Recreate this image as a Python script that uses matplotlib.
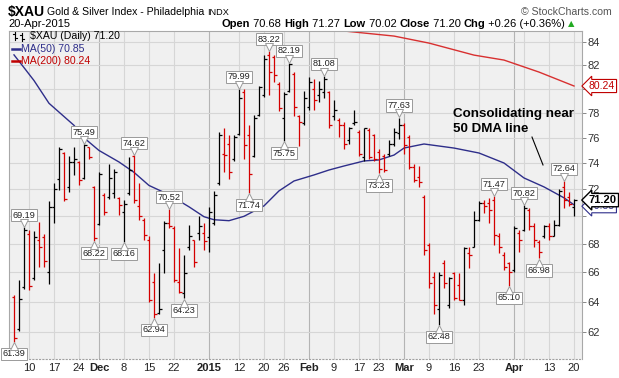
import numpy as np
import matplotlib
matplotlib.use("Agg")
import matplotlib.pyplot as plt
from matplotlib.transforms import offset_copy, blended_transform_factory
from matplotlib.lines import Line2D
from matplotlib.ticker import NullLocator, NullFormatter, FixedLocator

# ---------------- data ----------------
dates = [
    "2014-11-05", "2014-11-06", "2014-11-07", "2014-11-10", "2014-11-11", "2014-11-12", "2014-11-13", "2014-11-14",
    "2014-11-17", "2014-11-18", "2014-11-19", "2014-11-20", "2014-11-21", "2014-11-24", "2014-11-25", "2014-11-26",
    "2014-11-28",
    "2014-12-01", "2014-12-02", "2014-12-03", "2014-12-04", "2014-12-05", "2014-12-08", "2014-12-09", "2014-12-10",
    "2014-12-11", "2014-12-12", "2014-12-15", "2014-12-16", "2014-12-17", "2014-12-18", "2014-12-19", "2014-12-22",
    "2014-12-23", "2014-12-24", "2014-12-26", "2014-12-29", "2014-12-30", "2014-12-31",
    "2015-01-02", "2015-01-05", "2015-01-06", "2015-01-07", "2015-01-08", "2015-01-09", "2015-01-12", "2015-01-13",
    "2015-01-14", "2015-01-15", "2015-01-16", "2015-01-20", "2015-01-21", "2015-01-22", "2015-01-23", "2015-01-26",
    "2015-01-27", "2015-01-28", "2015-01-29", "2015-01-30",
    "2015-02-02", "2015-02-03", "2015-02-04", "2015-02-05", "2015-02-06", "2015-02-09", "2015-02-10", "2015-02-11",
    "2015-02-12", "2015-02-13", "2015-02-17", "2015-02-18", "2015-02-19", "2015-02-20", "2015-02-23", "2015-02-24",
    "2015-02-25", "2015-02-26", "2015-02-27",
    "2015-03-02", "2015-03-03", "2015-03-04", "2015-03-05", "2015-03-06", "2015-03-09", "2015-03-10", "2015-03-11",
    "2015-03-12", "2015-03-13", "2015-03-16", "2015-03-17", "2015-03-18", "2015-03-19", "2015-03-20", "2015-03-23",
    "2015-03-24", "2015-03-25", "2015-03-26", "2015-03-27", "2015-03-30", "2015-03-31",
    "2015-04-01", "2015-04-02", "2015-04-06", "2015-04-07", "2015-04-08", "2015-04-09", "2015-04-10", "2015-04-13",
    "2015-04-14", "2015-04-15", "2015-04-16", "2015-04-17", "2015-04-20",
]

opens = [
    64.34, 62.20, 65.00, 68.70, 65.60, 68.30, 68.50, 66.00, 70.70, 72.80, 74.80, 72.20, 74.10, 74.10, 72.90, 75.26,
    72.20,
    69.46, 71.60, 71.46, 71.70, 71.34, 70.30, 71.70, 74.60, 70.73, 69.76, 68.30, 65.36, 63.27, 67.58, 69.50, 69.15,
    65.36, 64.60, 67.80, 68.30, 68.78, 68.80,
    68.50, 69.50, 72.50, 74.75, 75.50, 74.30, 76.30, 79.73, 76.20, 74.60, 77.80, 79.47, 82.85, 82.70, 80.42, 77.60,
    79.86, 81.25, 77.72, 77.17,
    78.53, 80.00, 79.47, 79.73, 79.73, 77.72, 77.44, 77.00, 75.79, 77.17, 76.47, 74.45, 76.60, 76.20, 74.85, 74.60,
    74.72, 75.50, 76.40,
    77.03, 76.06, 73.70, 72.95, 71.46, 67.93, 65.70, 63.50, 66.64, 63.78, 65.93, 65.14, 64.11, 67.34, 67.81, 69.76,
    70.98, 71.00, 71.22, 68.54, 67.22, 66.64,
    66.16, 68.78, 69.02, 70.49, 69.27, 68.17, 68.54, 69.32, 68.59, 69.39, 72.20, 71.46, 70.68,
]
highs = [
    64.45, 65.50, 69.19, 69.00, 68.90, 69.60, 68.70, 71.10, 72.45, 75.30, 74.90, 74.60, 75.30, 74.20, 75.49, 75.30,
    72.25,
    73.30, 71.70, 73.95, 73.57, 71.46, 71.20, 74.50, 74.62, 72.45, 69.88, 68.54, 65.93, 66.65, 69.63, 70.52, 69.27,
    67.70, 67.22, 69.40, 68.30, 70.00, 69.50,
    70.70, 71.88, 76.47, 76.75, 76.20, 76.20, 79.99, 79.95, 77.00, 77.86, 80.28, 82.85, 83.22, 82.85, 80.56, 79.73,
    82.19, 81.39, 77.86, 79.86,
    80.97, 80.83, 80.70, 81.08, 79.86, 79.07, 77.58, 77.30, 76.90, 78.27, 76.60, 76.80, 76.75, 76.33, 75.12, 74.72,
    75.79, 76.75, 77.63,
    77.17, 76.20, 73.95, 73.82, 71.59, 68.05, 66.05, 66.05, 66.87, 65.70, 66.05, 65.93, 67.81, 67.81, 70.37, 71.10,
    71.22, 71.34, 71.47, 68.78, 67.46, 66.75,
    69.27, 69.02, 70.82, 70.61, 69.51, 68.30, 69.39, 69.51, 69.76, 72.00, 72.64, 71.83, 71.27,
]
lows = [
    61.39, 62.10, 64.90, 64.80, 65.50, 66.40, 66.40, 65.20, 69.50, 71.95, 71.10, 71.80, 73.10, 72.30, 72.80, 74.30,
    68.22,
    69.40, 70.10, 71.27, 71.34, 70.10, 68.16, 71.60, 70.97, 69.76, 68.30, 64.00, 62.94, 63.20, 65.93, 69.15, 65.36,
    64.57, 64.23, 67.58, 66.40, 68.30, 67.60,
    67.40, 69.38, 72.32, 73.31, 72.80, 74.20, 76.20, 74.30, 71.74, 74.45, 77.72, 79.33, 79.47, 80.56, 78.13, 75.75,
    79.73, 77.72, 75.39, 77.03,
    78.27, 78.27, 78.93, 79.20, 76.75, 77.44, 76.06, 75.12, 75.52, 77.03, 74.59, 74.20, 74.32, 74.20, 73.23, 73.31,
    74.59, 75.39, 75.92,
    74.74, 73.57, 72.58, 72.15, 67.22, 64.91, 63.22, 62.48, 64.91, 63.56, 64.11, 64.11, 63.78, 66.28, 67.81, 69.63,
    70.24, 69.51, 67.93, 67.34, 66.16, 65.10,
    66.05, 67.46, 68.90, 69.02, 67.81, 66.98, 68.41, 68.30, 68.54, 69.27, 70.61, 70.73, 70.02,
]
closes = [
    61.60, 64.20, 69.00, 65.10, 68.50, 67.80, 66.80, 70.70, 72.00, 75.10, 71.30, 74.10, 74.30, 72.70, 75.45, 74.50,
    68.40,
    73.20, 70.30, 72.90, 73.30, 70.85, 70.90, 73.45, 71.20, 70.00, 68.66, 64.10, 63.20, 63.55, 69.50, 69.27, 65.48,
    64.68, 65.93, 68.54, 66.75, 69.27, 68.20,
    70.30, 71.60, 76.20, 74.65, 73.30, 76.10, 79.20, 75.40, 73.20, 77.60, 80.14, 82.55, 81.39, 81.20, 78.40, 79.60,
    82.10, 78.53, 77.30, 79.20,
    80.56, 79.07, 80.00, 80.83, 77.00, 78.27, 77.03, 75.52, 76.75, 77.30, 74.72, 76.75, 74.45, 74.32, 73.55, 73.45,
    75.52, 76.47, 77.03,
    75.40, 73.70, 72.70, 72.58, 67.58, 65.25, 63.78, 65.80, 65.30, 65.60, 64.23, 64.15, 67.70, 67.22, 69.76, 70.98,
    70.73, 70.49, 68.66, 67.81, 66.40, 66.05,
    69.15, 68.30, 70.61, 69.27, 68.30, 67.46, 69.32, 68.54, 69.39, 71.90, 71.22, 70.94, 71.20,
]

# moving averages (bar date -> value)
ma50_dates = ["2014-11-05", "2014-11-07", "2014-11-11", "2014-11-14", "2014-11-21", "2014-11-25", "2014-12-01",
              "2014-12-05", "2014-12-10", "2014-12-15", "2014-12-19", "2014-12-26", "2014-12-31", "2015-01-05",
              "2015-01-08", "2015-01-13", "2015-01-20", "2015-01-23", "2015-01-28", "2015-02-03", "2015-02-06",
              "2015-02-11", "2015-02-18", "2015-02-23", "2015-02-26", "2015-03-02", "2015-03-06", "2015-03-16",
              "2015-03-23", "2015-03-30", "2015-04-06", "2015-04-10", "2015-04-16", "2015-04-20"]
ma50_values = [82.9, 81.8, 80.7, 78.8, 77.0, 76.0, 75.0, 74.1, 73.3, 72.3, 71.6, 70.7, 69.97, 69.75,
               69.68, 70.0, 70.77, 71.89, 72.64, 73.10, 73.48, 73.79, 74.18, 74.26, 74.64, 75.19, 75.51, 75.19,
               74.80, 74.02, 72.87, 72.19, 71.37, 70.85]

ma200_dates = ["2015-02-06", "2015-02-11", "2015-02-26", "2015-03-09", "2015-03-20", "2015-03-30", "2015-04-09",
               "2015-04-20"]
ma200_values = [85.3, 85.0, 84.55, 83.93, 82.88, 82.45, 81.42, 80.24]

# labelled swing highs / lows
label_highs = ["2014-11-07", "2014-11-25", "2014-12-10", "2014-12-19", "2015-01-12", "2015-01-21", "2015-01-27",
               "2015-02-05", "2015-02-27", "2015-03-26", "2015-04-06", "2015-04-16"]
label_lows = ["2014-11-05", "2014-11-28", "2014-12-08", "2014-12-16", "2014-12-24", "2015-01-14", "2015-01-26",
              "2015-02-23", "2015-03-11", "2015-03-31", "2015-04-09"]

# x-axis labels
xlabel_dates = ["2014-11-10", "2014-11-17", "2014-11-24", "2014-12-01", "2014-12-08", "2014-12-15", "2014-12-22",
                "2015-01-02", "2015-01-12", "2015-01-20", "2015-01-26", "2015-02-02", "2015-02-09", "2015-02-17",
                "2015-02-23", "2015-03-02", "2015-03-09", "2015-03-16", "2015-03-23", "2015-04-01", "2015-04-06",
                "2015-04-13", "2015-04-20"]
xlabel_texts = ["10", "17", "24", "Dec", "8", "15", "22", "2015", "12", "20", "26", "Feb", "9", "17", "23",
                "Mar", "9", "16", "23", "Apr", "", "13", "20"]
month_labels = {"Dec", "2015", "Feb", "Mar", "Apr"}

yticks = [62, 64, 66, 68, 70, 72, 74, 76, 78, 80, 82, 84]
hidden_ylabels = {70, 80}   # covered by the value tags on the right

# ---------------- figure ----------------
W, H = 619, 378
fig = plt.figure(figsize=(W / 100, H / 100), dpi=100)
fig.patch.set_facecolor("white")
FONT = "Liberation Sans"


def fx(x):
    return x / W


def fy(y):
    return 1 - y / H


ax = fig.add_axes([fx(9), 1 - 359 / H, (582 - 9) / W, (359 - 31) / H])
ax.set_facecolor("#f0f0f0")
ax.set_yscale("log")
ax.set_ylim(60.28, 85.0)
ax.set_xlim(-1, 113.6)

idx = {d: i for i, d in enumerate(dates)}
n = len(dates)
x = np.arange(n)

# grid
for d, t in zip(xlabel_dates, xlabel_texts):
    c = "#b4b4b4" if t in month_labels else "#d6d6d6"
    ax.axvline(idx[d], color=c, lw=0.8, zorder=0)
for v in yticks:
    ax.axhline(v, color="#d6d6d6", lw=0.8, zorder=0)

# bars
RED = "#d40000"
cols = []
for i in range(n):
    prev = closes[i - 1] if i > 0 else opens[0]
    cols.append(RED if closes[i] < prev else "black")
ax.vlines(x, lows, highs, colors=cols, lw=0.9, zorder=3)
ax.hlines(opens, x - 0.5, x, colors=cols, lw=0.9, zorder=3)
ax.hlines(closes, x, x + 0.5, colors=cols, lw=0.9, zorder=3)

# moving averages
ax.plot([idx[d] for d in ma50_dates], ma50_values, color="#2e2e8a", lw=1.0, zorder=2)
ax.plot([idx[d] for d in ma200_dates], ma200_values, color="#d83030", lw=1.0, zorder=2)

# price labels
for d in label_highs:
    i = idx[d]
    v = highs[i]
    ax.annotate(f"{v:.2f}", xy=(i, v), xytext=(0, 5.5), textcoords="offset points", ha="center", va="bottom",
                fontsize=6.6, family=FONT, color="#222222", zorder=6,
                bbox=dict(boxstyle="square,pad=0.18", fc="white", ec="#9a9a9a", lw=0.7))
    ax.plot([i], [v], marker="v", ms=5.5, mfc="white", mec="#9a9a9a", mew=0.7, zorder=7,
            transform=offset_copy(ax.transData, fig=fig, y=3.2, units="points"))
for d in label_lows:
    i = idx[d]
    v = lows[i]
    ax.annotate(f"{v:.2f}", xy=(i, v), xytext=(0, -5.5), textcoords="offset points", ha="center", va="top",
                fontsize=6.6, family=FONT, color="#222222", zorder=6,
                bbox=dict(boxstyle="square,pad=0.18", fc="white", ec="#9a9a9a", lw=0.7))
    ax.plot([i], [v], marker="^", ms=5.5, mfc="white", mec="#9a9a9a", mew=0.7, zorder=7,
            transform=offset_copy(ax.transData, fig=fig, y=-3.2, units="points"))

# axes styling
ax.yaxis.tick_right()
ax.yaxis.set_major_locator(FixedLocator(yticks))
ax.yaxis.set_minor_locator(NullLocator())
ax.yaxis.set_minor_formatter(NullFormatter())
ax.set_yticklabels(["" if v in hidden_ylabels else str(v) for v in yticks])
ax.tick_params(axis="y", which="major", length=3, width=0.7, color="#888888", pad=1, labelsize=8,
               labelcolor="#333333")
ax.set_xticks([idx[d] for d in xlabel_dates])
ax.set_xticklabels(xlabel_texts)
ax.tick_params(axis="x", length=0, pad=3, labelsize=8, labelcolor="#222222")
for lab in ax.get_xticklabels() + ax.get_yticklabels():
    lab.set_family(FONT)
for lab in ax.get_xticklabels():
    if lab.get_text() in month_labels:
        lab.set_fontweight("bold")
for s in ["left", "right", "top"]:
    ax.spines[s].set_color("#a8a8a8")
    ax.spines[s].set_linewidth(0.8)
ax.spines["bottom"].set_color("#a0a0a0")
ax.spines["bottom"].set_linestyle((0, (1, 2)))
ax.spines["bottom"].set_linewidth(0.8)

# right-side value tags
tr = blended_transform_factory(ax.transAxes, ax.transData)
ax.text(1.012, ma50_values[-1] * 0.9985, f"{ma50_values[-1]:.2f}", transform=tr, fontsize=7.5, family=FONT,
        color="#2e2e8a", va="center", ha="left", zorder=8, clip_on=False,
        bbox=dict(boxstyle="larrow,pad=0.15", fc="white", ec="#2e2e8a", lw=0.8))
ax.text(1.012, closes[-1], f"{closes[-1]:.2f}", transform=tr, fontsize=8, family=FONT, fontweight="bold",
        color="black", va="center", ha="left", zorder=9, clip_on=False,
        bbox=dict(boxstyle="larrow,pad=0.15", fc="white", ec="black", lw=1.0))
ax.text(1.012, ma200_values[-1], f"{ma200_values[-1]:.2f}", transform=tr, fontsize=7.5, family=FONT,
        color="#c00000", va="center", ha="left", zorder=8, clip_on=False,
        bbox=dict(boxstyle="larrow,pad=0.15", fc="white", ec="#c00000", lw=0.8))

# annotation text
ax.text(87.8, 78.45, "Consolidating near\n50 DMA line", fontsize=9.6, family=FONT, fontweight="bold",
        ha="left", va="top", linespacing=1.4, zorder=8)
ax.plot([103.6, 105.8], [76.06, 73.87], color="black", lw=0.8, zorder=8)

# header
fig.text(fx(8), fy(12), "$XAU", fontsize=10, family=FONT, fontweight="bold", va="center", ha="left")
fig.text(fx(47), fy(12), "Gold & Silver Index - Philadelphia", fontsize=7.6, family=FONT, va="center", ha="left")
fig.text(fx(207), fy(12.5), "INDX", fontsize=6.6, family=FONT, va="center", ha="left")
fig.text(fx(612), fy(12), "\u00a9 StockCharts.com", fontsize=7.6, family=FONT, va="center", ha="right",
         color="#555555")
fig.text(fx(8), fy(24), "20-Apr-2015", fontsize=8, family=FONT, va="center", ha="left")

pieces = [("Open", True), (" 70.68 ", False), ("High", True), (" 71.27 ", False), ("Low", True),
          (" 70.02 ", False), ("Close", True), (" 71.20 ", False), ("Chg", True), (" +0.26 (+0.36%) ", False)]
renderer = fig.canvas.get_renderer()
cx = 222
for txt, bold in pieces:
    t = fig.text(fx(cx), fy(24), txt, fontsize=8, family=FONT, fontweight="bold" if bold else "normal",
                 va="center", ha="left")
    cx += t.get_window_extent(renderer).width
fig.text(fx(cx), fy(24), "\u25b2", fontsize=6, family="DejaVu Sans", color="#22aa22", va="center", ha="left")

# legend
fig.text(fx(30), fy(36), f"$XAU (Daily) {closes[-1]:.2f}", fontsize=7.6, family=FONT, va="center", ha="left")
fig.text(fx(21), fy(49), f"MA(50) {ma50_values[-1]:.2f}", fontsize=7.6, family=FONT, va="center", ha="left",
         color="#2e2e8a")
fig.text(fx(21), fy(61), f"MA(200) {ma200_values[-1]:.2f}", fontsize=7.6, family=FONT, va="center", ha="left",
         color="#c00000")
fig.add_artist(Line2D([fx(12), fx(20)], [fy(49), fy(49)], color="#2e2e8a", lw=1.8))
fig.add_artist(Line2D([fx(12), fx(20)], [fy(61), fy(61)], color="#c00000", lw=1.8))
for bx, top, bot in [(15, 32, 40), (22, 33, 41)]:
    fig.add_artist(Line2D([fx(bx), fx(bx)], [fy(top), fy(bot)], color="black", lw=0.8))
    fig.add_artist(Line2D([fx(bx - 2), fx(bx)], [fy(top + 2), fy(top + 2)], color="black", lw=0.8))
    fig.add_artist(Line2D([fx(bx), fx(bx + 2)], [fy(bot - 2), fy(bot - 2)], color="black", lw=0.8))

fig.savefig("out.png", dpi=100, facecolor="white")
